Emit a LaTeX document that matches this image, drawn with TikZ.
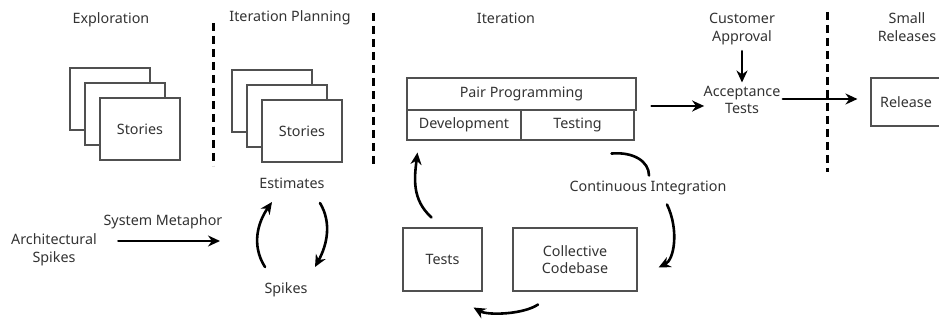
\documentclass[tikz,border=0pt]{standalone}
\usepackage{fontspec}
\setmainfont{Noto Sans}
\usetikzlibrary{calc,arrows.meta}
\definecolor{txtgray}{HTML}{333333}
\definecolor{boxgray}{HTML}{505050}

\begin{document}
\begin{tikzpicture}[x=1pt,y=1pt,yscale=-1,line cap=round,
	every node/.style={text=txtgray,font=\fontsize{14.3}{17.5}\selectfont}]
	\tikzstyle{card}=[draw=boxgray,fill=white,line width=1.1pt,minimum width=80,minimum height=62,inner sep=0pt];
	\tikzstyle{cell}=[draw=boxgray,line width=1.1pt,minimum height=31,inner sep=0pt];
	\tikzstyle{flow}=[line width=2.6pt,-{Stealth[length=12pt,width=11pt]}];
	\tikzstyle{phase}=[line width=3pt,line cap=butt,dash pattern=on 8pt off 5pt];

	\fill[white] (0,0) rectangle (939,320);
	\useasboundingbox (0,0) rectangle (939,320);

	% headings
	\node (hexpl) at (111,20) {Exploration};
	\node (hplan) at (290,18) {Iteration Planning};
	\node (hiter) at (506,18) {Iteration};
	\node[align=center] (hcust) at (742,29) {Customer\\Approval};
	\node[align=center] (hrel) at (907,27) {Small\\Releases};

	\draw[phase] (213,23) -- (213,166);
	\draw[phase] (373,13) -- (373,166);
	\draw[phase] (827,12) -- (827,172);

	% story cards
	\node[card] (expl1) at (110,99) {};
	\node[card] (expl2) at (125,114) {};
	\node[card] (expl3) at (140,129) {Stories};
	\node[card] (plan1) at (272,101) {};
	\node[card] (plan2) at (287,116) {};
	\node[card] (plan3) at (302,131) {Stories};

	% iteration
	\node[cell,minimum width=229,minimum height=32] (pair) at (521.5,94) {Pair Programming};
	\node[cell,minimum width=114,minimum height=30] (dev) at (464,125) {Development};
	\node[cell,minimum width=113,minimum height=30] (test) at (577.5,125) {Testing};
	\node[align=center] (acc) at (742,100) {Acceptance\\Tests};
	\node[card,minimum width=70,minimum height=48] (rel) at (906,102) {Release};

	\draw[flow] ($(pair.east)+(15,12)$) -- ($(acc.west)+(4,6)$);
	\draw[flow] ($(acc.east)+(-1,-1)$) -- ($(rel.west)+(-13,-3)$);
	\draw[flow,shorten <=3pt] (hcust.south) -- (acc.north);

	% estimates
	\node (est) at (292,183) {Estimates};
	\node (spk) at (286,290) {Spikes};
	\draw[flow] ($(spk.center)+(-21,-23)$) .. controls +(-14,-22) and +(-14,20) .. ($(est.center)+(-20,19)$);
	\draw[flow] ($(est.center)+(28,20)$) .. controls +(12,20) and +(12,-22) .. ($(spk.center)+(29,-23)$);

	\node[align=center] (arch) at (54,250) {Architectural\\Spikes};
	\node (meta) at (163,222) {System Metaphor};
	\coordinate (loopin) at (220,241);
	\draw[flow] ($(arch.east)+(18,-9)$) -- (loopin);

	% cycle
	\node[card,minimum width=79,minimum height=63] (tests) at (442.5,259.5) {Tests};
	\node[card,minimum width=124,minimum height=63,align=center] (code) at (575,259.5) {Collective\\Codebase};
	\node (ci) at (648,188) {Continuous Integration};
	\draw[line width=2.6pt] ($(test.south)+(34,13)$) .. controls +(22,-2) and +(0,-14) .. ($(ci.north)+(1,-2)$);
	\draw[flow] ($(ci.south)+(19,6)$) .. controls +(12,25) and +(16,-8) .. ($(code.east)+(21,8)$);
	\draw[flow] ($(code.south)+(-37,13)$) .. controls +(-15,10) and +(14,8) .. ($(tests.south east)+(-9,16)$);
	\draw[flow] ($(tests.north)+(-11,-10)$) .. controls +(-20,-18) and +(-3,25) .. ($(dev.south west)+(11,12)$);
\end{tikzpicture}
\end{document}
